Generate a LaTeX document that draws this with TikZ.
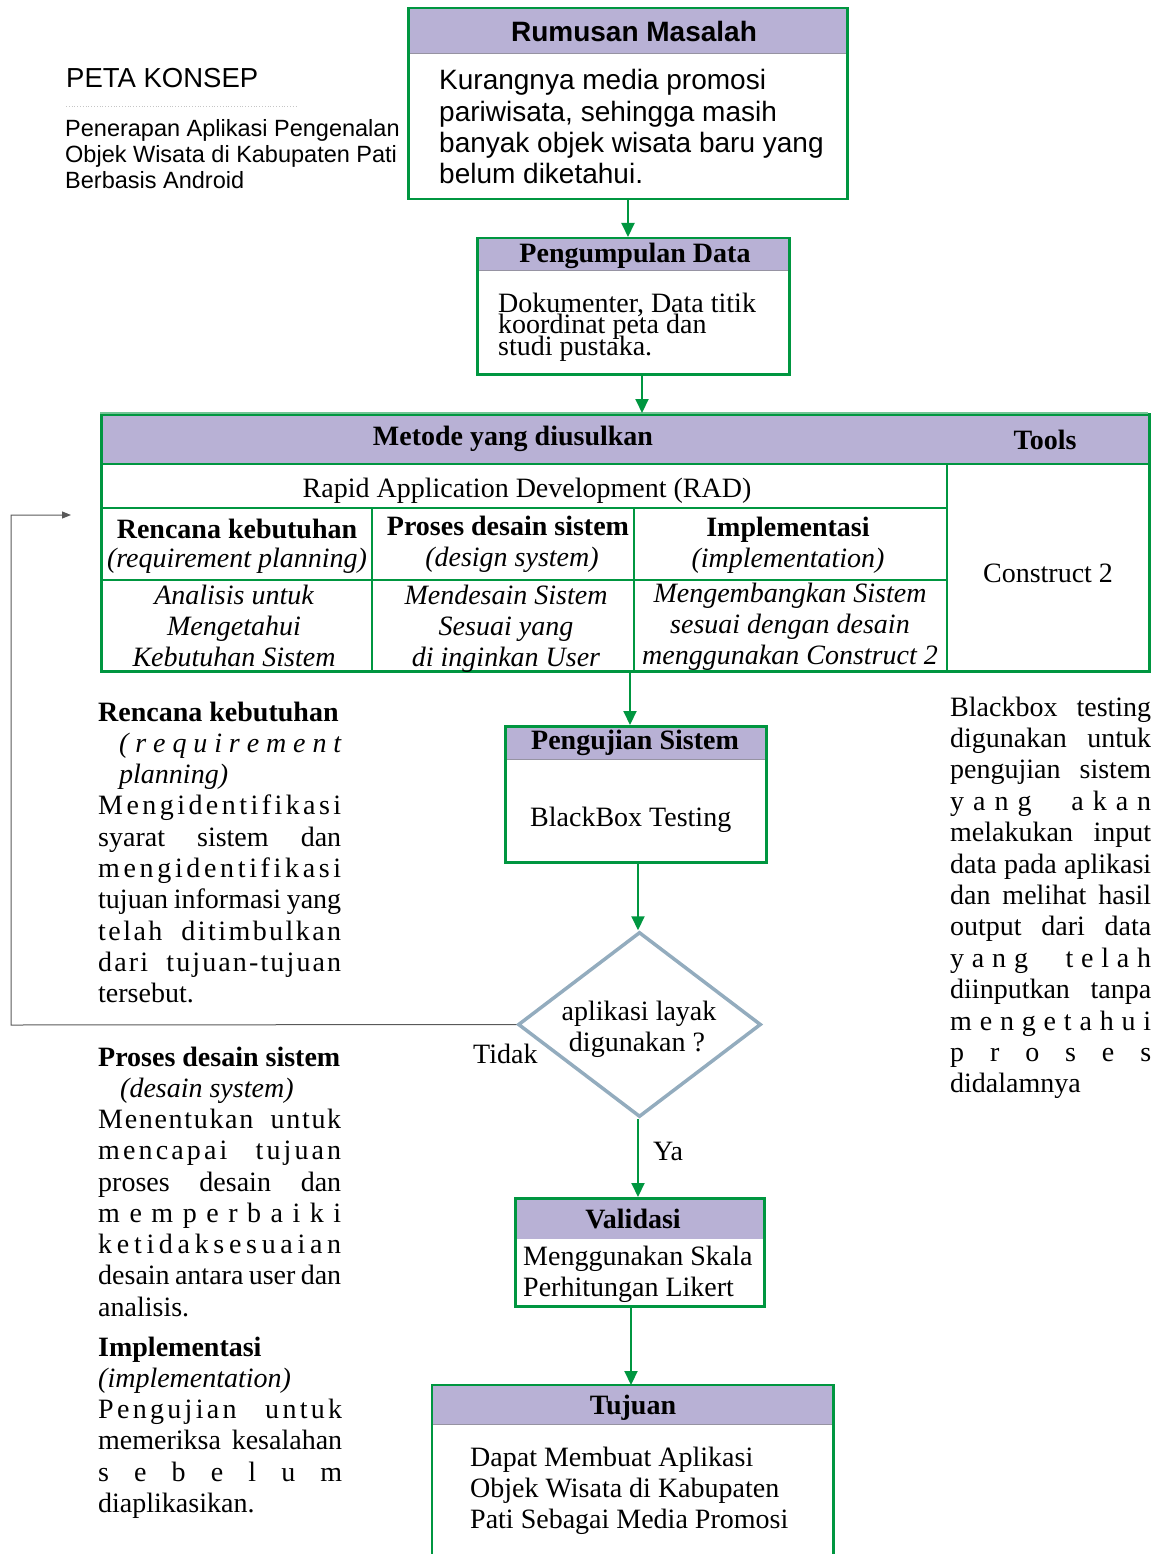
\documentclass[tikz,border=0pt]{standalone}
\usepackage{fontspec}
\setmainfont{Liberation Serif}
\newfontfamily\arial{Liberation Sans}
\usetikzlibrary{arrows.meta,shapes.geometric}
\definecolor{hdr}{RGB}{184,177,213}
\definecolor{grn}{RGB}{0,150,64}
\definecolor{dia}{RGB}{147,172,190}
\makeatletter
\newcommand\lw[1]{\def\lw@f{1}\@tfor\lw@t:=#1\do{\ifx\lw@f\@empty\hfil\fi\lw@t\let\lw@f\@empty}}
\makeatother
\newcommand\wg{\hfil\hskip22pt\hfil}
\newcommand\wgb{\hfil\hskip14pt\hfil}
\tikzset{
  box/.style={draw=grn, line width=2.5pt, inner sep=0, anchor=north west},
  hfill/.style={fill=hdr},
  sepl/.style={draw=gray!60!hdr, line width=1pt},
  tline/.style={draw=grn, line width=2.5pt},
  arr/.style={draw=grn, line width=2pt, -{Triangle[length=14pt,width=13pt]}},
  fbline/.style={draw=black!65, line width=1pt, -{Triangle[length=9pt,width=7pt]}},
  txt/.style={inner sep=0, anchor=base, font=\fontsize{28}{31.3}\selectfont},
  txtl/.style={inner sep=0, anchor=base west, font=\fontsize{28}{31.3}\selectfont},
  ttl/.style={inner sep=0, anchor=base, font=\bfseries\fontsize{28}{31.3}\selectfont},
}
\begin{document}
\begin{tikzpicture}[x=1pt,y=-1pt]
\useasboundingbox (0,0) rectangle (1161,1554);
% ---------- title block
\node[inner sep=0, anchor=base west, font=\arial\fontsize{27.5}{30}\selectfont] (peta) at (66,88) {PETA KONSEP};
\draw[gray!45, line width=0.8pt, dotted] (66,106) -- (298,106);
\node[inner sep=0, anchor=base west, font=\arial\fontsize{23.5}{26}\selectfont] (judul) at (65,137)
  {\vtop{\hbox{Penerapan Aplikasi Pengenalan}\hbox{Objek Wisata di Kabupaten Pati}\hbox{Berbasis Android}}};
% ---------- Rumusan Masalah
\fill[hfill] (407,7) rectangle (846,54);
\draw[sepl] (407,54) -- (846,54);
\node[box, minimum width=439, minimum height=191] (rm) at (407,7) {};
\node[inner sep=0, anchor=base, font=\arial\bfseries\fontsize{28}{30}\selectfont] (rmt) at (634,42) {Rumusan Masalah};
\node[inner sep=0, anchor=base west, font=\arial\fontsize{28}{31.3}\selectfont] (rmb) at (439,90)
  {\vtop{\hbox{Kurangnya media promosi}\hbox{pariwisata, sehingga masih}\hbox{banyak objek wisata baru yang}\hbox{belum diketahui.}}};
% ---------- Pengumpulan Data
\fill[hfill] (476,237) rectangle (788,270);
\draw[sepl] (476,270) -- (788,270);
\node[box, minimum width=312, minimum height=136] (pd) at (476,237) {};
\node[ttl] (pdt) at (635,262) {Pengumpulan Data};
\node[inner sep=0, anchor=base west, font=\fontsize{28}{21.5}\selectfont] (pdb) at (498,312)
  {\vtop{\lineskiplimit=-100pt\hbox{Dokumenter, Data titik}\hbox{koordinat peta dan}\hbox{studi pustaka.}}};
% ---------- Table
\fill[hfill] (100,413) rectangle (1148,464);
\node[box, minimum width=1048, minimum height=257] (tb) at (100,413) {};
\draw[draw=grn!55, line width=2.5pt] (100,413) -- (1148,413);
\draw[tline] (100,464) -- (1148,464);
\draw[tline] (100,508) -- (947,508);
\draw[tline] (947,464) -- (947,670);
\draw[tline] (372,508) -- (372,670);
\draw[tline] (634,508) -- (634,670);
\draw[tline] (100,580) -- (947,580);
\node[ttl] (mth) at (513,445) {Metode yang diusulkan};
\node[ttl] (tools) at (1045,449) {Tools};
\node[txt] (rad) at (527,497) {Rapid Application Development (RAD)};
\node[txt] (cons) at (1048,582) {Construct 2};
\node[ttl] (c1a) at (237,538) {Rencana kebutuhan};
\node[txt, font=\itshape\fontsize{28}{31.3}\selectfont] (c1b) at (237,567) {(requirement planning)};
\node[ttl] (c2a) at (508,535) {Proses desain sistem};
\node[txt, font=\itshape\fontsize{28}{31.3}\selectfont] (c2b) at (512,566) {(design system)};
\node[ttl] (c3a) at (788,536) {Implementasi};
\node[txt, font=\itshape\fontsize{28}{31.3}\selectfont] (c3b) at (788,567) {(implementation)};
\node[txt, font=\itshape\fontsize{28}{31}\selectfont] (d1) at (234,604)
  {\vtop{\hbox to 0pt{\hss Analisis untuk\hss}\hbox to 0pt{\hss Mengetahui\hss}\hbox to 0pt{\hss Kebutuhan Sistem\hss}}};
\node[txt, font=\itshape\fontsize{28}{31}\selectfont] (d2) at (506,604)
  {\vtop{\hbox to 0pt{\hss Mendesain Sistem\hss}\hbox to 0pt{\hss Sesuai yang\hss}\hbox to 0pt{\hss di inginkan User\hss}}};
\node[txt, font=\itshape\fontsize{28}{31}\selectfont] (d3) at (790,602)
  {\vtop{\hbox to 0pt{\hss Mengembangkan Sistem\hss}\hbox to 0pt{\hss sesuai dengan desain\hss}\hbox to 0pt{\hss menggunakan Construct 2\hss}}};
% ---------- Pengujian Sistem
\fill[hfill] (504,725) rectangle (765,759);
\draw[sepl] (504,759) -- (765,759);
\node[box, minimum width=261, minimum height=136] (ps) at (504,725) {};
\node[ttl] (pst) at (635,749) {Pengujian Sistem};
\node[txtl] (psb) at (530,826) {BlackBox Testing};
% ---------- Decision
\node[diamond, draw=dia, line width=3.5pt, minimum width=243, minimum height=185, inner sep=0] (dm) at (639.5,1024.5) {};
\node[txt] (dm1) at (639,1020) {aplikasi layak};
\node[txt] (dm2) at (637,1051) {digunakan ?};
\node[txtl] (tidak) at (473,1063) {Tidak};
\node[txtl] (ya) at (653,1160) {Ya};
% ---------- Validasi
\fill[hfill] (514,1197) rectangle (763,1239);
\node[box, minimum width=249, minimum height=108] (va) at (514,1197) {};
\node[ttl] (vat) at (633,1228) {Validasi};
\node[inner sep=0, anchor=base west, font=\fontsize{28}{31}\selectfont] (vab) at (523,1265)
  {\vtop{\hbox{Menggunakan Skala}\hbox{Perhitungan Likert}}};
% ---------- Tujuan
\fill[hfill] (432,1385) rectangle (833,1424);
\draw[sepl] (432,1424) -- (833,1424);
\node[inner sep=0, anchor=north west, minimum width=401, minimum height=172] (tj) at (432,1385) {};
\draw[draw=grn, line width=2.5pt] (tj.south west) -- (tj.north west) -- (tj.north east) -- (tj.south east);
\node[ttl] (tjt) at (633,1414) {Tujuan};
\node[inner sep=0, anchor=base west, font=\fontsize{28}{31}\selectfont] (tjb) at (470,1466)
  {\vtop{\hbox{Dapat Membuat Aplikasi}\hbox{Objek Wisata di Kabupaten}\hbox{Pati Sebagai Media Promosi}}};
% ---------- connectors
\coordinate (x1) at (628,0);
\coordinate (x2) at (642,0);
\coordinate (x3) at (630,0);
\coordinate (x4) at (638,0);
\coordinate (x6) at (631,0);
\draw[arr] (x1 |- rm.south) -- (x1 |- pd.north);
\draw[arr] (x2 |- pd.south) -- (x2 |- tb.north);
\draw[arr] (x3 |- tb.south) -- (x3 |- ps.north);
\draw[arr] (x4 |- ps.south) -- (x4 |- dm.north);
\draw[arr] (x4 |- dm.south) -- (x4 |- va.north);
\draw[arr] (x6 |- va.south) -- (x6 |- tj.north);
\coordinate (fb1) at (11,1025);
\coordinate (fb2) at (11,515);
\coordinate (fb3) at (71,515);
\draw[fbline] (dm.west) -- (fb1) -- (fb2) -- (fb3);
% ---------- left explanations
\node[txtl] (p1) at (98,721)
  {\vtop{%
  \hbox{\bfseries Rencana kebutuhan}
  \hbox to 243pt{\hskip21pt\itshape\lw{(requirement}}
  \hbox{\hskip21pt\itshape planning)}
  \hbox to 243pt{\lw{Mengidentifikasi}}
  \hbox to 243pt{syarat\hfil sistem\hfil dan}
  \hbox to 243pt{\lw{mengidentifikasi}}
  \hbox to 243pt{tujuan\hfil informasi\hfil yang}
  \hbox to 243pt{\lw{telah}\wgb\lw{ditimbulkan}}
  \hbox to 243pt{\lw{dari}\wgb\lw{tujuan-tujuan}}
  \hbox{tersebut.}}};
\node[txtl, font=\fontsize{28}{31.25}\selectfont] (p2) at (98,1066)
  {\vtop{%
  \hbox{\bfseries Proses desain sistem}
  \hbox{\hskip22pt\itshape (desain system)}
  \hbox to 243pt{\lw{Menentukan}\wgb\lw{untuk}}
  \hbox to 243pt{\lw{mencapai}\wg\lw{tujuan}}
  \hbox to 243pt{proses\hfil desain\hfil dan}
  \hbox to 243pt{\lw{memperbaiki}}
  \hbox to 243pt{\lw{ketidaksesuaian}}
  \hbox to 243pt{desain\hfil antara\hfil user\hfil dan}
  \hbox{analisis.}}};
\node[txtl, font=\fontsize{28}{31.3}\selectfont] (p3) at (98,1356)
  {\vtop{%
  \hbox{\bfseries Implementasi}
  \hbox{\itshape (implementation)}
  \hbox to 244pt{\lw{Pengujian}\wg\lw{untuk}}
  \hbox to 244pt{memeriksa\hfil kesalahan}
  \hbox to 244pt{\lw{sebelum}}
  \hbox{diaplikasikan.}}};
% ---------- right explanation
\node[txtl, font=\fontsize{28}{31.4}\selectfont] (p4) at (950,716)
  {\vtop{%
  \hbox to 201pt{Blackbox\hfil testing}
  \hbox to 201pt{digunakan\hfil untuk}
  \hbox to 201pt{pengujian\hfil sistem}
  \hbox to 201pt{\lw{yang}\wg\lw{akan}}
  \hbox to 201pt{melakukan\hfil input}
  \hbox to 201pt{data\hfil pada\hfil aplikasi}
  \hbox to 201pt{dan\hfil melihat\hfil hasil}
  \hbox to 201pt{output\hfil dari\hfil data}
  \hbox to 201pt{\lw{yang}\wg\lw{telah}}
  \hbox to 201pt{diinputkan\hfil tanpa}
  \hbox to 201pt{\lw{mengetahui}}
  \hbox to 201pt{\lw{proses}}
  \hbox{didalamnya}}};
\end{tikzpicture}
\end{document}
